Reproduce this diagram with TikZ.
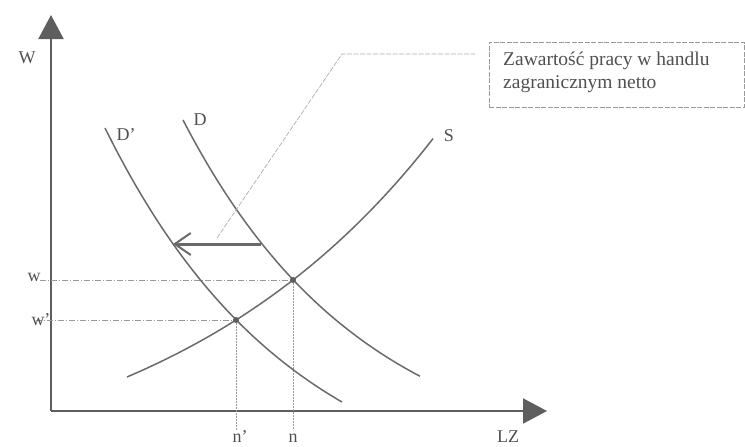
\documentclass[tikz,border=0pt]{standalone}
\usepackage{fontspec}
\setmainfont{Liberation Serif}
\usetikzlibrary{arrows.meta}
\definecolor{axisgray}{HTML}{5E5E5E}
\definecolor{curvegray}{HTML}{6A6A6A}
\definecolor{textgray}{HTML}{505050}
\definecolor{guidegray}{HTML}{9A9A9A}
\begin{document}
\begin{tikzpicture}[x=1pt,y=-1pt,
  axisline/.style={draw=axisgray, line width=2pt, -{Triangle[length=24pt,width=25pt]}},
  curveline/.style={draw=curvegray, line width=1.5pt, samples=80},
  guideline/.style={draw=guidegray, line width=0.8pt, dash pattern=on 6pt off 2pt on 1pt off 2pt},
  dropline/.style={draw=guidegray, line width=0.8pt, dash pattern=on 1.5pt off 1.5pt},
  leader/.style={draw=guidegray!80, line width=0.7pt, dash pattern=on 5pt off 1.5pt},
  lbl/.style={text=textgray, font=\fontsize{18}{20}\selectfont, inner sep=0pt},
  boxtext/.style={text=textgray, font=\fontsize{19.5}{23}\selectfont, align=left, inner sep=0pt},
  eqdot/.style={circle, fill=axisgray, inner sep=0pt, minimum size=6pt},
  shiftarrow/.style={draw=curvegray, line width=3pt, -{Straight Barb[length=16pt,width=22pt,line width=2pt]}}
]
\useasboundingbox (0,0) rectangle (745,447);
% axes
\coordinate (O) at (51,411);
\coordinate (ytop) at (51,15);
\coordinate (xend) at (547,411);
\draw[axisline] (O) -- (ytop);
\draw[axisline] (O) -- (xend);
% equilibrium points
\coordinate (E) at (293,280);
\coordinate (Ep) at (236,320);
% guides
\coordinate (wl) at (40,280);
\coordinate (wpl) at (36,320);
\coordinate (nb) at (293,430);
\coordinate (npb) at (236,430);
\draw[guideline] (wl) -- (E);
\draw[guideline] (wpl) -- (Ep);
\draw[dropline] (E) -- (nb);
\draw[dropline] (Ep) -- (npb);
% curves
\draw[curveline] plot[domain=105:342] (\x, {511.3-383.3*exp(-0.0053*(\x-105))});
\draw[curveline] plot[domain=183:420] (\x, {472-352*exp(-0.0055*(\x-183))});
\draw[curveline] plot[domain=127:433] (\x, {377-118.6*(exp(0.0036*(\x-127))-1)});
\node[eqdot] (dE) at (E) {};
\node[eqdot] (dEp) at (Ep) {};
% shift arrow
\coordinate (as) at (261,244);
\coordinate (ae) at (173,244);
\draw[shiftarrow] (as) -- (ae);
% leader and box
\coordinate (l1) at (217,238);
\coordinate (l2) at (342,54);
\coordinate (l3) at (475,54);
\draw[leader] (l1) -- (l2) -- (l3);
\node[draw=guidegray, line width=0.7pt, dash pattern=on 5pt off 1.5pt, minimum width=255pt, minimum height=65pt, anchor=north west, inner sep=0pt] (box) at (489,42) {};
\node[boxtext, anchor=north west] (boxt) at (503,52) {Zawartość pracy w handlu\\zagranicznym netto};
% labels
\node[lbl] (W) at (27,58) {W};
\node[lbl] (Dp) at (126,135) {D'};
\node[lbl] (D) at (200,120) {D};
\node[lbl] (S) at (449,136) {S};
\node[lbl] (w) at (34,277) {w};
\node[lbl] (wp) at (41,320) {w'};
\node[lbl, anchor=base] (np) at (240,442) {n'};
\node[lbl, anchor=base] (n) at (293,442) {n};
\node[lbl, anchor=base] (LZ) at (508,442) {LZ};
\end{tikzpicture}
\end{document}
